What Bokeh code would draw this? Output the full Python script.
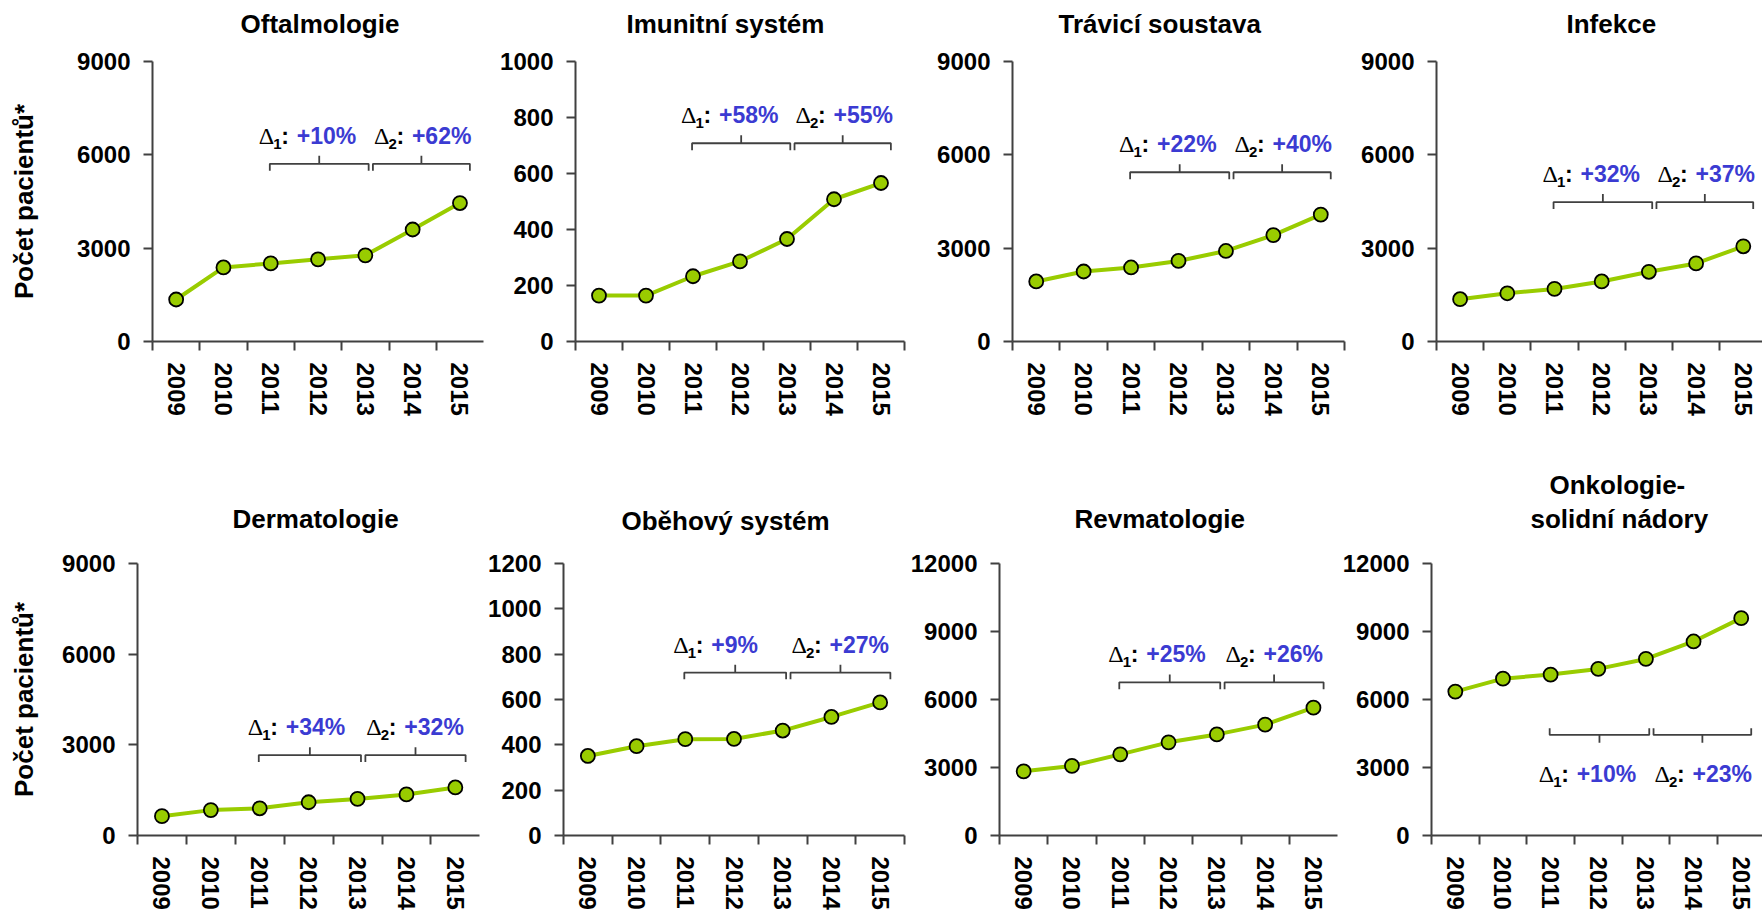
from bokeh.plotting import figure
from bokeh.models import FixedTicker, Range1d, Title
from bokeh.layouts import row, column
from bokeh.embed import file_html
from bokeh.resources import INLINE
from bokeh.core.properties import value

# ---------------- data ----------------
years = ["2009", "2010", "2011", "2012", "2013", "2014", "2015"]

titles = ["Oftalmologie", "Imunitní systém", "Trávicí soustava", "Infekce",
          "Dermatologie", "Oběhový systém", "Revmatologie", "Onkologie-\nsolidní nádory"]

oftalmologie = [1350, 2380, 2510, 2640, 2770, 3600, 4450]
imunitni = [164, 164, 233, 286, 366, 508, 566]
travici = [1930, 2250, 2380, 2590, 2910, 3420, 4080]
infekce = [1360, 1550, 1690, 1930, 2240, 2510, 3060]
dermatologie = [640, 840, 900, 1100, 1210, 1360, 1590]
obehovy = [351, 394, 425, 426, 463, 523, 587]
revmatologie = [2830, 3070, 3580, 4110, 4460, 4890, 5640]
onkologie = [6350, 6920, 7100, 7350, 7790, 8560, 9590]

y_max = [9000, 1000, 9000, 9000, 9000, 1200, 12000, 12000]
y_step = [3000, 200, 3000, 3000, 3000, 200, 3000, 3000]

delta1 = ["+10%", "+58%", "+22%", "+32%", "+34%", "+9%", "+25%", "+10%"]
delta2 = ["+62%", "+55%", "+40%", "+37%", "+32%", "+27%", "+26%", "+23%"]

# bracket level (in data units) and whether the bracket is below the line
bracket_level = [5710, 708, 5440, 4480, 2660, 719, 6757, 4437]
bracket_below = [False, False, False, False, False, False, False, True]

series = [oftalmologie, imunitni, travici, infekce,
          dermatologie, obehovy, revmatologie, onkologie]

# ---------------- style ----------------
FONT = "Liberation Sans"
GREEN = "#99cc00"
BLUE = "#3b3bd2"
AXIS = "#404040"
FRAME_H = 280

# layout per panel (pixels): borders, frame width, band width,
# title left offsets (one per line) and gap between frame and title
layout = [
    dict(left=152, fw=331, right=2, top=61, bottom=100, band=47.3, ylab=True, ylab_so=35, t_off=[88], gap=23),
    dict(left=90, fw=329, right=2, top=61, bottom=100, band=47.0, ylab=False, t_off=[51], gap=23),
    dict(left=106, fw=332, right=2, top=61, bottom=100, band=47.4, ylab=False, t_off=[46], gap=23),
    dict(left=90, fw=326, right=0, top=61, bottom=100, band=47.2, ylab=False, t_off=[130], gap=23),
    dict(left=137, fw=342, right=2, top=122, bottom=69, band=48.9, ylab=True, ylab_so=20, t_off=[95], gap=30),
    dict(left=82, fw=341, right=2, top=120, bottom=71, band=48.7, ylab=False, t_off=[58], gap=28),
    dict(left=93, fw=338, right=2, top=122, bottom=69, band=48.3, ylab=False, t_off=[75], gap=30),
    dict(left=84, fw=339, right=0, top=118, bottom=73, band=48.8, ylab=False, t_off=[118, 99], gap=30),
]


def make_panel(k):
    L = layout[k]
    vals = series[k]
    ymax = y_max[k]
    xend = -0.5 + L["fw"] / L["band"]
    xend = min(xend, len(years) - 0.5)
    p = figure(width=L["left"] + L["fw"] + L["right"], height=L["top"] + FRAME_H + L["bottom"],
               x_range=Range1d(-0.5, xend), y_range=Range1d(0, ymax),
               output_backend="svg", toolbar_location=None,
               min_border_left=L["left"], min_border_right=L["right"],
               min_border_top=L["top"], min_border_bottom=L["bottom"])
    p.outline_line_color = None
    p.grid.visible = False
    p.background_fill_color = "white"
    p.border_fill_color = "white"

    # spacer between frame and title, then title lines (nearest first)
    p.add_layout(Title(text=" ", text_font_size="1px", standoff=L["gap"] - 3), "above")
    lines = titles[k].split("\n")
    for j, (line, off) in enumerate(reversed(list(zip(lines, L["t_off"])))):
        p.add_layout(Title(text=line, align="left", text_font=FONT, text_font_size="26px",
                           text_font_style="bold", text_color="black", offset=off,
                           standoff=0 if j == 0 else 4), "above")

    xs = list(range(len(years)))
    # x axis
    xa = p.xaxis[0]
    xa.ticker = FixedTicker(ticks=xs, minor_ticks=[i - 0.5 for i in range(len(years) + 1)])
    xa.major_label_overrides = {i: y for i, y in zip(xs, years)}
    xa.major_label_orientation = "vertical"
    xa.major_tick_line_color = None
    xa.major_tick_out = 9
    xa.major_tick_in = 0
    xa.minor_tick_out = 9
    xa.minor_tick_in = 0
    xa.minor_tick_line_color = AXIS
    xa.minor_tick_line_width = 2
    xa.axis_line_color = AXIS
    xa.axis_line_width = 2
    xa.major_label_standoff = 12
    xa.major_label_text_font = FONT
    xa.major_label_text_font_size = "24px"
    xa.major_label_text_font_style = "bold"
    xa.major_label_text_color = "black"

    ya = p.yaxis[0]
    ya.ticker = FixedTicker(ticks=list(range(0, ymax + 1, y_step[k])), minor_ticks=[])
    ya.major_tick_out = 9
    ya.major_tick_in = 0
    ya.major_tick_line_color = AXIS
    ya.major_tick_line_width = 2
    ya.axis_line_color = AXIS
    ya.axis_line_width = 2
    ya.major_label_standoff = 13
    ya.major_label_text_font = FONT
    ya.major_label_text_font_size = "24px"
    ya.major_label_text_font_style = "bold"
    ya.major_label_text_color = "black"
    if L["ylab"]:
        ya.axis_label = "Počet pacientů*"
        ya.axis_label_text_font = FONT
        ya.axis_label_text_font_size = "26px"
        ya.axis_label_text_font_style = "bold"
        ya.axis_label_text_color = "black"
        ya.axis_label_standoff = L["ylab_so"]

    # line + markers
    p.line(xs, vals, line_color=GREEN, line_width=4)
    p.scatter(xs, vals, size=14, fill_color=GREEN, line_color="black", line_width=1.8)

    # brackets
    px = ymax / FRAME_H
    lvl = bracket_level[k]
    below = bracket_below[k]
    sgn = -1 if below else 1
    hook = 7 * px * sgn
    tick = 8 * px * sgn
    i11, i13, i15 = years.index("2011"), years.index("2013"), years.index("2015")
    spans = [(i11 - 0.02, i13 + 0.07), (i13 + 0.16, i15 + 0.21)]
    for a, b in spans:
        m = (a + b) / 2
        p.line([a, a, b, b], [lvl - hook, lvl, lvl, lvl - hook], line_color=AXIS, line_width=1.8)
        p.line([m, m], [lvl, lvl + tick], line_color=AXIS, line_width=1.8)

    # delta texts
    base_dy = 39 if below else -28
    for (a, b), sub, pct, dx in zip(spans, ["1", "2"], [delta1[k], delta2[k]], [-11, 1]):
        p.text([a], [lvl], text=["Δ"], x_offset=dx, y_offset=base_dy,
               text_font=value("Liberation Serif"), text_font_size="24px",
               text_color="black", text_align="left", text_baseline="middle")
        p.text([a], [lvl], text=[sub], x_offset=dx + 14.5, y_offset=base_dy + 8,
               text_font=value(FONT), text_font_size="15px", text_font_style="bold",
               text_color="black", text_align="left", text_baseline="middle")
        p.text([a], [lvl], text=[":"], x_offset=dx + 22.5, y_offset=base_dy,
               text_font=value(FONT), text_font_size="23px", text_font_style="bold",
               text_color="black", text_align="left", text_baseline="middle")
        p.text([a], [lvl], text=[pct], x_offset=dx + 38, y_offset=base_dy,
               text_font=value(FONT), text_font_size="23px", text_font_style="bold",
               text_color=BLUE, text_align="left", text_baseline="middle")
    return p


panels = [make_panel(k) for k in range(8)]
layout_obj = column(row(*panels[:4]), row(*panels[4:]))

open("out.html", "w").write(file_html(layout_obj, INLINE))
